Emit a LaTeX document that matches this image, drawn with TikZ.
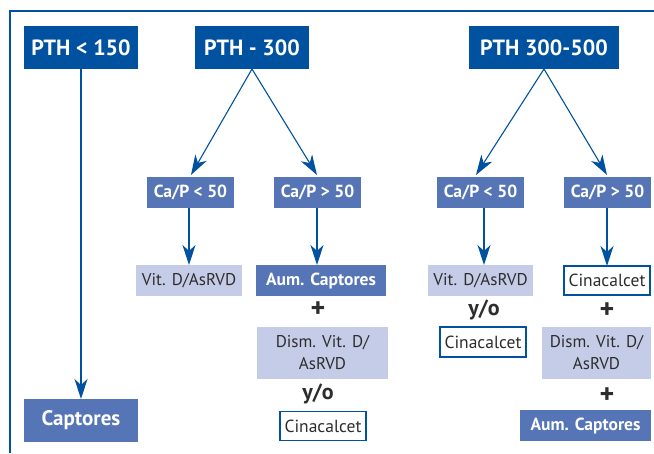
\documentclass[tikz,border=0pt]{standalone}
\usepackage{fontspec}
\setmainfont{PT Sans}
\usetikzlibrary{arrows.meta}
\definecolor{dblue}{RGB}{0,82,160}
\definecolor{mblue}{RGB}{86,117,182}
\definecolor{lblue}{RGB}{197,204,232}
\definecolor{tgray}{RGB}{45,45,45}
\tikzset{
  every node/.style={inner sep=0pt, outer sep=0pt},
  pth/.style={fill=dblue, text=white, font=\fontsize{22}{24}\selectfont\bfseries},
  capbox/.style={fill=mblue, text=white, font=\fontsize{17.5}{20}\selectfont\bfseries},
  capbig/.style={fill=mblue, text=white, font=\fontsize{21}{24}\selectfont\bfseries},
  aum/.style={fill=mblue, text=white, font=\fontsize{17.5}{20}\selectfont\bfseries},
  vit/.style={fill=lblue, text=tgray, font=\fontsize{17}{22}\selectfont, align=center},
  cina/.style={fill=white, draw=dblue, line width=1.2pt, text=tgray, font=\fontsize{17.5}{20}\selectfont},
  sym/.style={text=tgray, font=\fontsize{22}{24}\selectfont\bfseries},
  plus/.style={text=tgray, font=\fontsize{28}{28}\selectfont\bfseries},
  arr/.style={draw=dblue, line width=1.1pt, -{Stealth[length=20pt,width=13pt,inset=6pt]}},
}
\begin{document}
\begin{tikzpicture}[x=1pt,y=-1pt]
\useasboundingbox (0,0) rectangle (654,453);
\draw[dblue, line width=1.2pt] (10,453) -- (10,11) -- (654,11);
% top level
\node[pth, minimum width=114pt, minimum height=43pt] (p150) at (81,47.5) {PTH < 150};
\node[pth, minimum width=114pt, minimum height=43pt] (p300) at (252,47.5) {PTH - 300};
\node[pth, minimum width=150pt, minimum height=43pt] (p500) at (544,47.5) {PTH 300-500};
% Ca/P
\node[capbox, minimum width=87pt, minimum height=31pt] (c1) at (190.5,192.5) {Ca/P < 50};
\node[capbox, minimum width=87pt, minimum height=31pt] (c2) at (317.5,192.5) {Ca/P > 50};
\node[capbox, minimum width=87pt, minimum height=31pt] (c3) at (480.5,192.5) {Ca/P < 50};
\node[capbox, minimum width=87pt, minimum height=31pt] (c4) at (607.5,192.5) {Ca/P > 50};
% left
\node[capbig, minimum width=114pt, minimum height=43pt] (capt) at (81,420.5) {Captores};
% second column
\node[vit, minimum width=106pt, minimum height=31pt] (v1) at (189,280.5) {Vit. D/AsRVD};
% third column
\node[aum, minimum width=130pt, minimum height=31pt] (a1) at (321,280.5) {Aum. Captores};
\node[plus] (s1) at (318,310) {+};
\node[vit, minimum width=131pt, minimum height=52pt] (d1) at (322.5,353) {Dism. Vit. D/\\AsRVD};
\node[sym] (s2) at (318,394) {y/o};
\node[cina, minimum width=86pt, minimum height=29pt] (k1) at (323,426) {Cinacalcet};
% fourth column
\node[vit, minimum width=105pt, minimum height=31pt] (v2) at (480.5,280.5) {Vit. D/AsRVD};
\node[sym] (s3) at (484,310) {y/o};
\node[cina, minimum width=86pt, minimum height=30pt] (k2) at (483,342) {Cinacalcet};
% fifth column
\node[cina, minimum width=86pt, minimum height=29pt] (k3) at (607,280.5) {Cinacalcet};
\node[plus] (s4) at (607,311) {+};
\node[vit, minimum width=109pt, minimum height=52pt] (d2) at (596.5,353) {Dism. Vit. D/\\AsRVD};
\node[plus] (s5) at (607,396) {+};
\node[aum, minimum width=131pt, minimum height=31pt] (a2) at (585.5,425.5) {Aum. Captores};
% arrows
\draw[arr] (p150.south) -- (capt.north);
\draw[arr] (p300.south) -- (191,175);
\draw[arr] (p300.south) -- (317,175);
\draw[arr] (p500.south) -- (476,175);
\draw[arr] (p500.south) -- (607,175);
\draw[arr] (189,208) -- (v1.north);
\draw[arr] (317,208) -- (317,265);
\draw[arr] (484,208) -- (484,265);
\draw[arr] (607,208) -- (k3.north);
\end{tikzpicture}
\end{document}
